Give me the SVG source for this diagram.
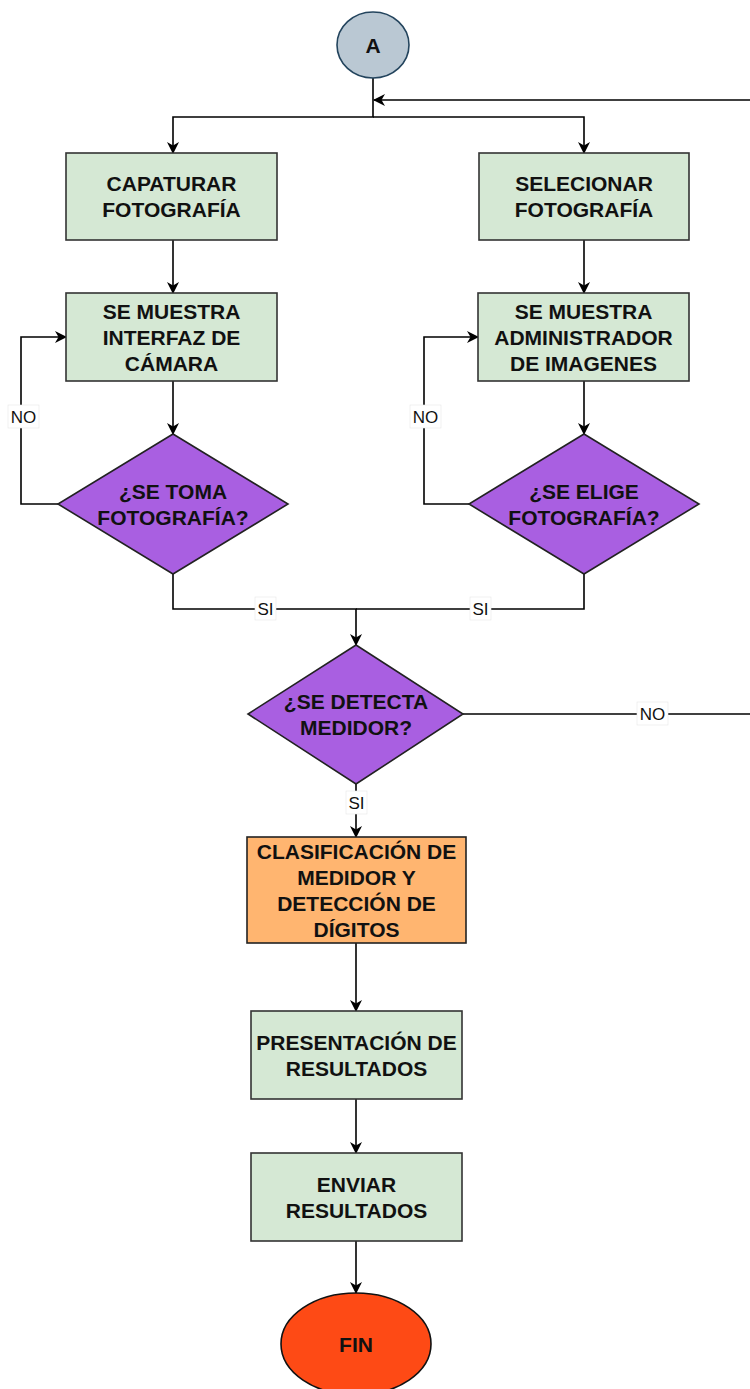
<svg xmlns="http://www.w3.org/2000/svg" width="750" height="1389" viewBox="0 0 750 1389">
  <defs>
    <marker id="arrow" markerUnits="userSpaceOnUse" markerWidth="12" markerHeight="12" viewBox="0 0 12 12" refX="11" refY="6" orient="auto">
      <path d="M0,0 L12,6 L0,12 L3.5,6 Z" fill="#000"/>
    </marker>
    <style>
      .box { fill: #d5e8d4; stroke: #333; stroke-width: 1.6; }
      .proc { fill: #ffb570; stroke: #222; stroke-width: 1.6; }
      .dec { fill: #a95fe1; stroke: #222; stroke-width: 1.6; }
      .t { font-family: "Liberation Sans", Arial, sans-serif; font-weight: bold; font-size: 21px; fill: #111; text-anchor: middle; }
      .edge { fill: none; stroke: #000; stroke-width: 1.6; }
      .lblbg { fill: #fff; stroke: #e6e6e6; stroke-width: 0.6; }
      .lbl { font-family: "Liberation Sans", Arial, sans-serif; font-size: 17px; fill: #111; text-anchor: middle; }
    </style>
  </defs>

  <!-- connectors -->
  <g id="connectors">
    <path class="edge" d="M373,78 V117 H173 V153" marker-end="url(#arrow)"/>
    <path class="edge" d="M373,117 H584 V153" marker-end="url(#arrow)"/>
    <path class="edge" d="M750,100 H374" marker-end="url(#arrow)"/>
    <path class="edge" d="M173,240 V293" marker-end="url(#arrow)"/>
    <path class="edge" d="M584,240 V293" marker-end="url(#arrow)"/>
    <path class="edge" d="M173,381 V434" marker-end="url(#arrow)"/>
    <path class="edge" d="M584,381 V434" marker-end="url(#arrow)"/>
    <path class="edge" d="M58,504 H21 V337 H66" marker-end="url(#arrow)"/>
    <path class="edge" d="M469,504 H424 V337 H478" marker-end="url(#arrow)"/>
    <path class="edge" d="M173,574 V609 H356 V645" marker-end="url(#arrow)"/>
    <path class="edge" d="M584,574 V609 H356"/>
    <path class="edge" d="M463,714 H750"/>
    <path class="edge" d="M356,784 V837" marker-end="url(#arrow)"/>
    <path class="edge" d="M356,943 V1011" marker-end="url(#arrow)"/>
    <path class="edge" d="M356,1099 V1153" marker-end="url(#arrow)"/>
    <path class="edge" d="M356,1241 V1293" marker-end="url(#arrow)"/>

    <!-- edge labels -->
    <rect class="lblbg" x="8" y="405" width="31" height="23"/>
    <text class="lbl" x="23.5" y="423">NO</text>
    <rect class="lblbg" x="410" y="405" width="31" height="23"/>
    <text class="lbl" x="425.5" y="423">NO</text>
    <rect class="lblbg" x="255" y="597" width="21" height="23"/>
    <text class="lbl" x="265.5" y="615">SI</text>
    <rect class="lblbg" x="470" y="597" width="21" height="23"/>
    <text class="lbl" x="480.5" y="615">SI</text>
    <rect class="lblbg" x="637" y="702" width="31" height="23"/>
    <text class="lbl" x="652.5" y="720">NO</text>
    <rect class="lblbg" x="346" y="791" width="21" height="23"/>
    <text class="lbl" x="356.5" y="809">SI</text>
  </g>

  <!-- nodes -->
  <g id="node-a">
    <ellipse cx="373" cy="45" rx="36" ry="33" fill="#bac8d3" stroke="#23445d" stroke-width="1.6"/>
    <text class="t" x="373" y="52.5">A</text>
  </g>

  <g id="node-capturar">
    <rect class="box" x="66" y="153" width="211" height="87"/>
    <text class="t" x="171.5" y="191">CAPATURAR</text>
    <text class="t" x="171.5" y="217">FOTOGRAFÍA</text>
  </g>

  <g id="node-seleccionar">
    <rect class="box" x="479" y="153" width="210" height="87"/>
    <text class="t" x="584" y="191">SELECIONAR</text>
    <text class="t" x="584" y="217">FOTOGRAFÍA</text>
  </g>

  <g id="node-camara">
    <rect class="box" x="66" y="293" width="211" height="88"/>
    <text class="t" x="171.5" y="318.5">SE MUESTRA</text>
    <text class="t" x="171.5" y="344.5">INTERFAZ DE</text>
    <text class="t" x="171.5" y="370.5">CÁMARA</text>
  </g>

  <g id="node-administrador">
    <rect class="box" x="478" y="293" width="211" height="88"/>
    <text class="t" x="583.5" y="318.5">SE MUESTRA</text>
    <text class="t" x="583.5" y="344.5">ADMINISTRADOR</text>
    <text class="t" x="583.5" y="370.5">DE IMAGENES</text>
  </g>

  <g id="node-toma">
    <polygon class="dec" points="173,434 288,504 173,574 58,504"/>
    <text class="t" x="173" y="498.5">¿SE TOMA</text>
    <text class="t" x="173" y="524.5">FOTOGRAFÍA?</text>
  </g>

  <g id="node-elige">
    <polygon class="dec" points="584,434 699,504 584,574 469,504"/>
    <text class="t" x="584" y="498.5">¿SE ELIGE</text>
    <text class="t" x="584" y="524.5">FOTOGRAFÍA?</text>
  </g>

  <g id="node-detecta">
    <polygon class="dec" points="356,645 463,714 356,784 248,714"/>
    <text class="t" x="356" y="708.5">¿SE DETECTA</text>
    <text class="t" x="356" y="734.5">MEDIDOR?</text>
  </g>

  <g id="node-clasificacion">
    <rect class="proc" x="247" y="837" width="219" height="106"/>
    <text class="t" x="356.5" y="858.5">CLASIFICACIÓN DE</text>
    <text class="t" x="356.5" y="884.5">MEDIDOR Y</text>
    <text class="t" x="356.5" y="910.5">DETECCIÓN DE</text>
    <text class="t" x="356.5" y="936.5">DÍGITOS</text>
  </g>

  <g id="node-presentacion">
    <rect class="box" x="251" y="1011" width="211" height="88"/>
    <text class="t" x="356.5" y="1049.5">PRESENTACIÓN DE</text>
    <text class="t" x="356.5" y="1075.5">RESULTADOS</text>
  </g>

  <g id="node-enviar">
    <rect class="box" x="251" y="1153" width="211" height="88"/>
    <text class="t" x="356.5" y="1191.5">ENVIAR</text>
    <text class="t" x="356.5" y="1217.5">RESULTADOS</text>
  </g>

  <g id="node-fin">
    <ellipse cx="356" cy="1344" rx="75" ry="51" fill="#fe4a15" stroke="#111" stroke-width="1.6"/>
    <text class="t" x="356" y="1351.5">FIN</text>
  </g>
</svg>
